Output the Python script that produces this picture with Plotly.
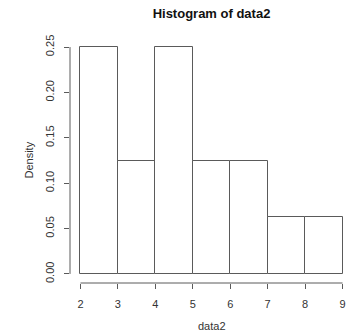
import plotly.graph_objects as go

bin_edges = [2, 3, 4, 5, 6, 7, 8, 9]
densities = [0.25, 0.125, 0.25, 0.125, 0.125, 0.0625, 0.0625]
x_ticks = [2, 3, 4, 5, 6, 7, 8, 9]
y_ticks = [0.00, 0.05, 0.10, 0.15, 0.20, 0.25]
y_tick_labels = ["0.00", "0.05", "0.10", "0.15", "0.20", "0.25"]

mids = [(a + b) / 2 for a, b in zip(bin_edges[:-1], bin_edges[1:])]
widths = [b - a for a, b in zip(bin_edges[:-1], bin_edges[1:])]

line_col = "#5a5a5a"
font = "Liberation Sans, Arial, sans-serif"

fig = go.Figure()
fig.add_trace(go.Bar(
    x=mids, y=densities, width=widths,
    marker=dict(color="white", line=dict(color=line_col, width=1)),
    showlegend=False, hoverinfo="skip",
))

xr = [x_ticks[0] - 0.04 * (x_ticks[-1] - x_ticks[0]), x_ticks[-1] + 0.04 * (x_ticks[-1] - x_ticks[0])]
yr = [-0.04 * max(y_ticks), max(y_ticks) * 1.04]

fig.update_layout(
    width=354, height=336,
    margin=dict(l=70, r=1, t=38, b=53),
    paper_bgcolor="white", plot_bgcolor="white",
    font=dict(family=font, color="#333333", size=11),
    title=dict(text="<b>Histogram of data2</b>", x=0.5, xref="paper", xanchor="center",
               y=1 - 13 / 336, yanchor="middle", font=dict(size=13, color="#111111")),
    bargap=0,
    xaxis=dict(range=xr, tickvals=x_ticks, ticktext=[str(v) for v in x_ticks],
               ticks="outside", ticklen=5, tickcolor=line_col, showgrid=False,
               zeroline=False, showline=False, ticklabelstandoff=6),
    yaxis=dict(range=yr, tickvals=y_ticks, ticktext=y_tick_labels, tickangle=-90,
               ticks="outside", ticklen=5, tickcolor=line_col, showgrid=False,
               zeroline=False, showline=False, ticklabelstandoff=6),
    shapes=[
        dict(type="line", xref="x", yref="paper", x0=x_ticks[0], x1=x_ticks[-1], y0=0, y1=0,
             line=dict(color=line_col, width=1)),
        dict(type="line", xref="paper", yref="y", x0=0, x1=0, y0=y_ticks[0], y1=y_ticks[-1],
             line=dict(color=line_col, width=1)),
    ],
    annotations=[
        dict(text="Density", xref="paper", yref="paper", x=0, y=0.5, xanchor="center",
             yanchor="middle", xshift=-42, textangle=-90, showarrow=False,
             font=dict(size=11, color="#333333")),
        dict(text="data2", xref="paper", yref="paper", x=0.5, y=0, xanchor="center",
             yanchor="middle", yshift=-43, showarrow=False,
             font=dict(size=11, color="#333333")),
    ],
)

fig.write_html("out.html")
